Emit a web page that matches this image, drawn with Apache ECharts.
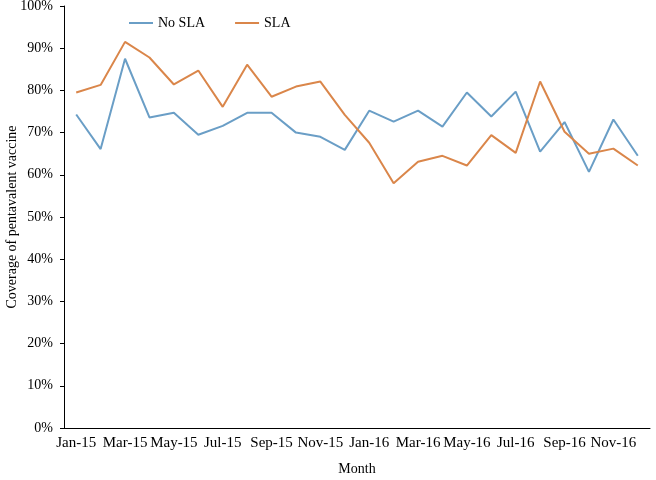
<!DOCTYPE html>
<html>
<head>
<meta charset="utf-8">
<script src="https://cdn.jsdelivr.net/npm/echarts@6/dist/echarts.min.js"></script>
<style>
  html, body { margin: 0; padding: 0; background: #fff; }
  #main { width: 656px; height: 480px; }
</style>
</head>
<body>
<div id="main"></div>
<script>
// months on the x axis
var months = ['Jan-15', 'Feb-15', 'Mar-15', 'Apr-15', 'May-15', 'Jun-15', 'Jul-15', 'Aug-15',
  'Sep-15', 'Oct-15', 'Nov-15', 'Dec-15', 'Jan-16', 'Feb-16', 'Mar-16', 'Apr-16',
  'May-16', 'Jun-16', 'Jul-16', 'Aug-16', 'Sep-16', 'Oct-16', 'Nov-16', 'Dec-16'];

// coverage (%)
var noSla = [74.3, 66.1, 87.5, 73.6, 74.7, 69.5, 71.6, 74.7, 74.7, 70.0, 69.0, 65.9,
  75.2, 72.6, 75.2, 71.4, 79.5, 73.8, 79.7, 65.5, 72.5, 60.7, 73.1, 64.5];
var sla = [79.5, 81.3, 91.5, 87.8, 81.4, 84.7, 76.1, 86.1, 78.5, 80.9, 82.1, 74.2,
  67.6, 58.0, 63.1, 64.5, 62.2, 69.4, 65.2, 82.1, 70.2, 65.0, 66.2, 62.2];

var font = 'Liberation Serif';

var chart = echarts.init(document.getElementById('main'));
chart.setOption({
  animation: false,
  textStyle: { fontFamily: font },
  color: ['#6a9ec6', '#da864a'],
  legend: {
    top: 11,
    left: 124,
    itemGap: 30,
    itemWidth: 24,
    itemHeight: 2,
    icon: 'rect',
    textStyle: { fontFamily: font, fontSize: 14, color: '#000' },
    data: ['No SLA', 'SLA']
  },
  grid: {
    left: 64,
    right: 6,
    top: 6,
    bottom: 52,
    outerBoundsMode: 'none'
  },
  xAxis: {
    type: 'category',
    data: months,
    boundaryGap: true,
    name: 'Month',
    nameLocation: 'middle',
    nameGap: 34,
    nameTextStyle: { fontFamily: font, fontSize: 14, color: '#000' },
    axisLine: { lineStyle: { color: '#000', width: 1 } },
    axisTick: { interval: 1, length: 4, lineStyle: { color: '#000' } },
    axisLabel: { interval: 1, color: '#000', fontSize: 15, fontFamily: font, margin: 8 }
  },
  yAxis: {
    type: 'value',
    min: 0,
    max: 100,
    interval: 10,
    name: 'Coverage of pentavalent vaccine',
    nameLocation: 'middle',
    nameGap: 45,
    nameMoveOverlap: false,
    nameTextStyle: { fontFamily: font, fontSize: 14, color: '#000' },
    splitLine: { show: false },
    axisLine: { show: true, lineStyle: { color: '#000', width: 1 } },
    axisTick: { show: true, length: 4, lineStyle: { color: '#000' } },
    axisLabel: {
      color: '#000',
      fontSize: 14,
      fontFamily: font,
      margin: 11,
      formatter: '{value}%'
    }
  },
  series: [{
    name: 'No SLA',
    type: 'line',
    data: noSla,
    showSymbol: false,
    lineStyle: { width: 2 }
  }, {
    name: 'SLA',
    type: 'line',
    data: sla,
    showSymbol: false,
    lineStyle: { width: 2 }
  }]
});
</script>
</body>
</html>
